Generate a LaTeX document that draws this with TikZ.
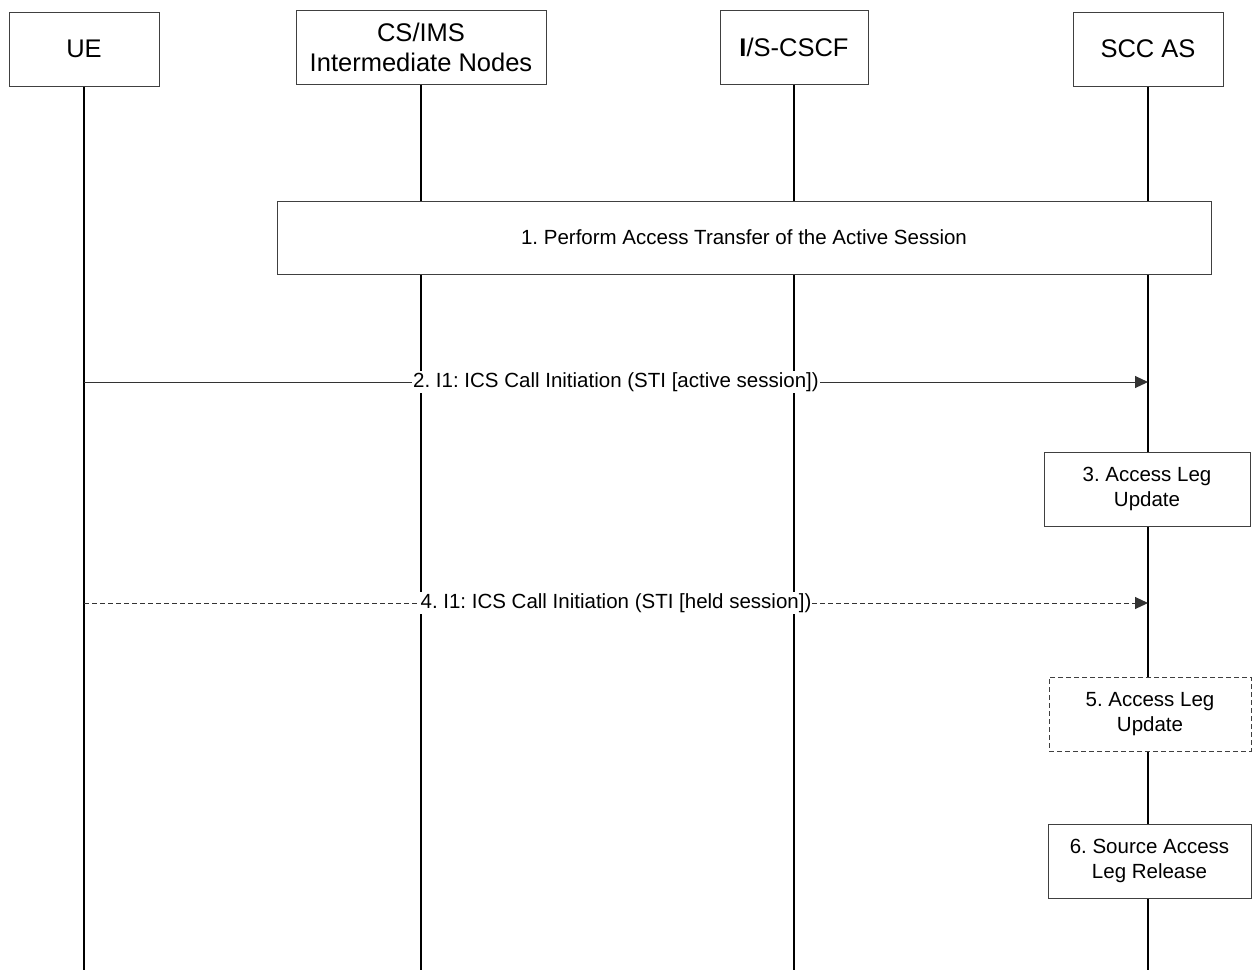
\documentclass[tikz,border=0pt]{standalone}
\usepackage{fontspec}
\setmainfont{Liberation Sans}
\usetikzlibrary{arrows.meta}
\begin{document}
\frenchspacing
\begin{tikzpicture}[x=1pt,y=-1pt,
  head/.style={draw=black!75,line width=1pt,fill=white,align=center,inner sep=0pt,
     font=\frenchspacing\fontsize{25.5}{30}\selectfont},
  stepbox/.style={draw=black!75,line width=1pt,fill=white,align=center,inner sep=0pt,
     font=\frenchspacing\fontsize{20.5}{25}\selectfont},
  life/.style={black,line width=1.6pt},
  msg/.style={black!80,line width=1pt,-{Triangle[length=13pt,width=12pt]}},
  lbl/.style={fill=white,inner sep=1pt,font=\frenchspacing\fontsize{20.5}{25}\selectfont,text=black}
]
\useasboundingbox (0,0) rectangle (1252,970);
% headers
\node[head,minimum width=150pt,minimum height=74pt] (ue) at (84,49) {UE};
\node[head,minimum width=250pt,minimum height=74pt] (cs) at (421,47) {CS/IMS\\Intermediate Nodes};
\node[head,minimum width=148pt,minimum height=74pt] (cscf) at (794,47) {\textbf{I}/S-CSCF};
\node[head,minimum width=150pt,minimum height=74pt] (scc) at (1148,49) {SCC AS};
% bottom ends
\coordinate (ueb) at (84,970);
\coordinate (csb) at (421,970);
\coordinate (cscfb) at (794,970);
\coordinate (sccb) at (1148,970);
% lifelines
\draw[life] (ue.south) -- (ueb);
\draw[life] (cs.south) -- (csb);
\draw[life] (cscf.south) -- (cscfb);
\draw[life] (scc.south) -- (sccb);
% step 1
\node[stepbox,minimum width=934pt,minimum height=73pt] (s1) at (744,237.5) {1. Perform Access Transfer of the Active Session};
% message 2
\coordinate (m2a) at (84,382);
\coordinate (m2b) at (1148,382);
\draw[msg] (m2a) -- node[lbl] {2. I1: ICS Call Initiation (STI [active session])} (m2b);
% step 3
\node[stepbox,minimum width=206pt,minimum height=74pt] (s3) at (1147,489) {3. Access Leg\\Update};
% message 4
\coordinate (m4a) at (84,603);
\coordinate (m4b) at (1148,603);
\draw[msg,dash pattern=on 5pt off 3pt] (m4a) -- node[lbl] {4. I1: ICS Call Initiation (STI [held session])} (m4b);
% step 5
\node[stepbox,dash pattern=on 5pt off 3pt,minimum width=202pt,minimum height=74pt] (s5) at (1150,714) {5. Access Leg\\Update};
% step 6
\node[stepbox,minimum width=203pt,minimum height=74pt] (s6) at (1149.5,861) {6. Source Access\\Leg Release};
\end{tikzpicture}
\end{document}
